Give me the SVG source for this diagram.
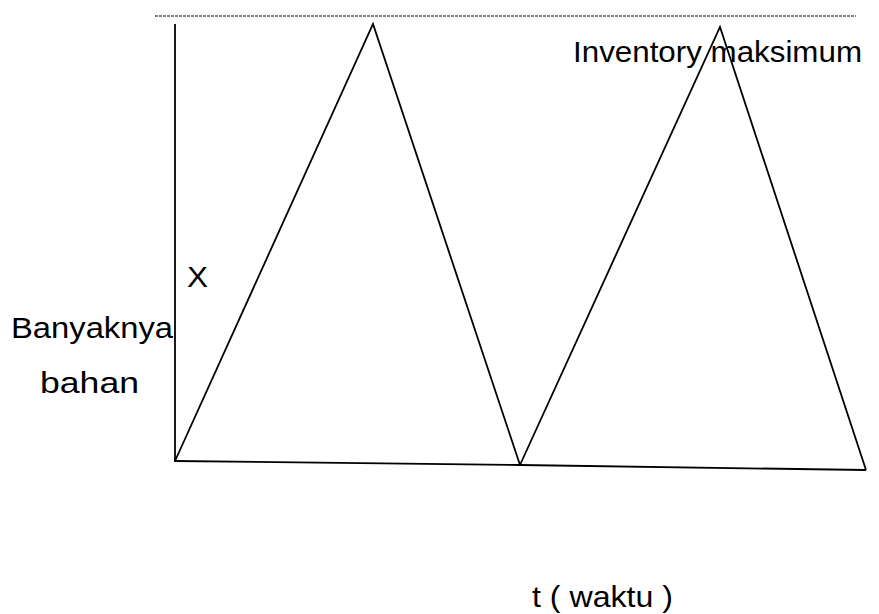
<svg xmlns="http://www.w3.org/2000/svg" width="879" height="614" viewBox="0 0 879 614">
<style>
.ln{fill:none;stroke:#000;stroke-width:1.8;stroke-linejoin:miter}
.tx{font-family:"Liberation Sans",Arial,sans-serif;font-size:30px;fill:#000}
</style>
<rect width="879" height="614" fill="#fff"/>
<g id="connectors">
<line x1="155" y1="16" x2="856" y2="16" stroke="#000" stroke-width="1.2" stroke-dasharray="3 1"/>
<line class="ln" x1="175" y1="24" x2="175" y2="462"/>
<polyline class="ln" points="175,461 520,465 866,470"/>
<polyline class="ln" points="175,461 373,24 520,465"/>
<polyline class="ln" points="520,465 720,27 866,470"/>
</g>
<g id="label-max"><text class="tx" x="573" y="62" font-size="31" textLength="289" lengthAdjust="spacingAndGlyphs">Inventory maksimum</text></g>
<g id="label-x"><text class="tx" x="187" y="287" font-size="32" textLength="21" lengthAdjust="spacingAndGlyphs">X</text></g>
<g id="label-y"><text class="tx" x="11" y="338" textLength="162" lengthAdjust="spacingAndGlyphs">Banyaknya</text>
<text class="tx" x="40" y="393" textLength="99" lengthAdjust="spacingAndGlyphs">bahan</text></g>
<g id="label-t"><text class="tx" x="532" y="607" textLength="141" lengthAdjust="spacingAndGlyphs">t ( waktu )</text></g>
</svg>
